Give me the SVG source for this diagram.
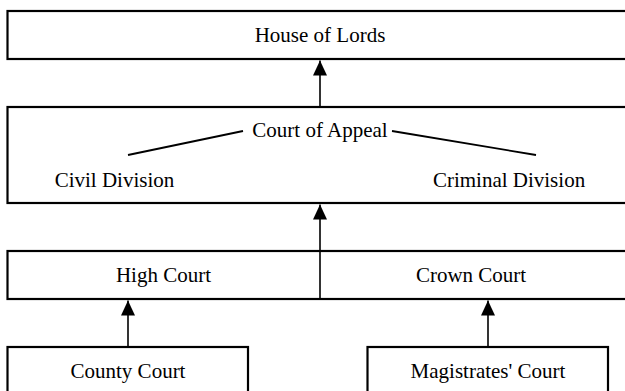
<svg xmlns="http://www.w3.org/2000/svg" width="625" height="391" viewBox="0 0 625 391">
  <style>
    .box { fill: #ffffff; stroke: #000000; stroke-width: 2.2; }
    .lbl { font-family: "Liberation Serif", "Times New Roman", "DejaVu Serif", serif; font-size: 21px; fill: #000000; text-anchor: middle; }
    .conn { stroke: #000000; stroke-width: 1.6; fill: none; }
    .tie { stroke: #000000; stroke-width: 1.8; fill: none; }
  </style>
  <defs>
    <marker id="arrow" viewBox="0 0 15 14" refX="15" refY="7" markerWidth="15" markerHeight="14" markerUnits="userSpaceOnUse" orient="auto">
      <path d="M15 7 L0 0 L0 14 Z" fill="#000000"/>
    </marker>
  </defs>
  <rect width="625" height="391" fill="#ffffff"/>

  <g id="house-of-lords">
    <rect class="box" x="7.5" y="11" width="620" height="48"/>
    <text class="lbl" x="320" y="42">House of Lords</text>
  </g>

  <g id="court-of-appeal">
    <rect class="box" x="7.5" y="107" width="620" height="96"/>
    <text class="lbl" x="320" y="137">Court of Appeal</text>
    <line class="tie" x1="128" y1="155" x2="243" y2="131"/>
    <line class="tie" x1="392" y1="131" x2="536" y2="155"/>
    <text class="lbl" x="114.5" y="187">Civil Division</text>
    <text class="lbl" x="509" y="187">Criminal Division</text>
  </g>

  <g id="high-crown-court">
    <rect class="box" x="7.5" y="251" width="620" height="48"/>
    <text class="lbl" x="163.5" y="282">High Court</text>
    <text class="lbl" x="471" y="282">Crown Court</text>
  </g>

  <g id="county-court">
    <rect class="box" x="7.5" y="347" width="240.5" height="60"/>
    <text class="lbl" x="128" y="378">County Court</text>
  </g>

  <g id="magistrates-court">
    <rect class="box" x="367.5" y="347" width="240.5" height="60"/>
    <text class="lbl" x="488" y="378">Magistrates' Court</text>
  </g>

  <g id="connectors">
    <line class="conn" x1="320" y1="107" x2="320" y2="60.5" marker-end="url(#arrow)"/>
    <line class="conn" x1="320" y1="299" x2="320" y2="204.5" marker-end="url(#arrow)"/>
    <line class="conn" x1="128" y1="347" x2="128" y2="300.5" marker-end="url(#arrow)"/>
    <line class="conn" x1="488" y1="347" x2="488" y2="300.5" marker-end="url(#arrow)"/>
  </g>
</svg>
